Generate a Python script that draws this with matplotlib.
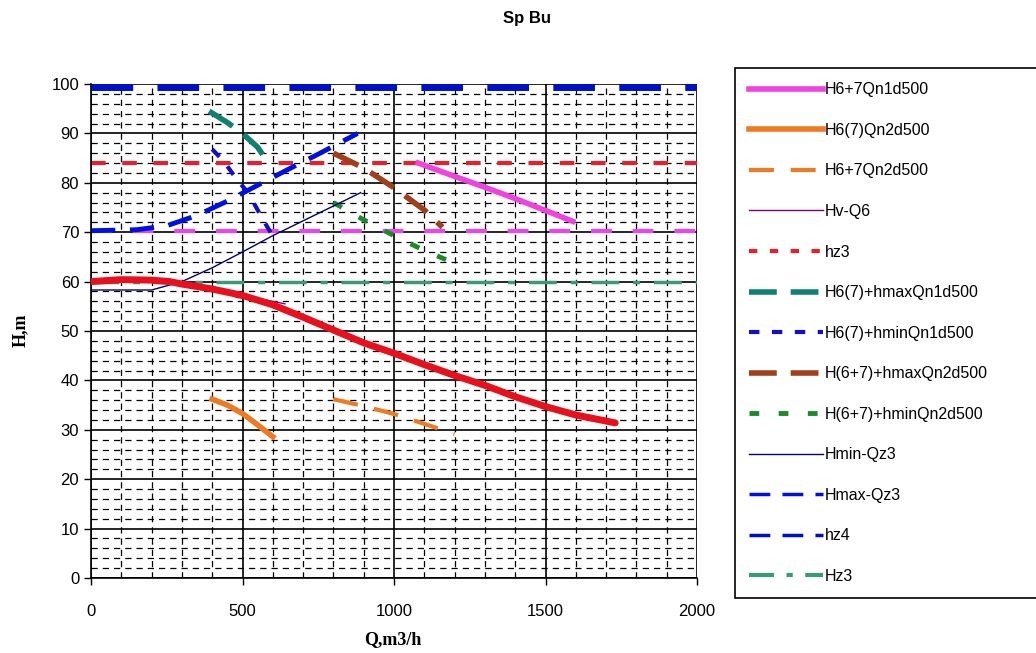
import matplotlib
matplotlib.use('Agg')
import matplotlib.pyplot as plt
from matplotlib.lines import Line2D
from matplotlib.ticker import MultipleLocator

# pump curve (thick red, not in legend)
q_pump = [0, 100, 200, 260, 300, 400, 500, 600, 700, 800, 900, 1000, 1100, 1200, 1300, 1400, 1500, 1600, 1730]
h_pump = [60, 60.4, 60.3, 60, 59.5, 58.5, 57.2, 55.3, 52.8, 50.2, 47.6, 45.5, 43.2, 41, 39, 36.7, 34.7, 33, 31.4]

q_n1 = [1080, 1200, 1300, 1400, 1500, 1590]
h_n1 = [84, 81.3, 79.1, 76.8, 74.4, 72.2]

q_n2 = [400, 450, 500, 550, 600]
h_n2 = [36.2, 35, 33.3, 31, 28.6]

q_n2b = [800, 900, 1000, 1100, 1200]
h_n2b = [36.2, 34.8, 33.2, 31.2, 29.2]

q_hv = [480, 560, 640]
h_hv = [56.8, 56.5, 55.5]

q_hmax1 = [390, 450, 500, 550, 580]
h_hmax1 = [94.5, 92.2, 90, 87.2, 84.5]

q_hmin1 = [400, 440, 480, 510, 540, 570, 600]
h_hmin1 = [86.8, 84.2, 80.8, 78.6, 75.6, 72.3, 69.2]

q_hmax2 = [800, 900, 1000, 1100, 1160]
h_hmax2 = [86, 83, 79, 74.5, 71]

q_hmin2 = [800, 900, 1000, 1100, 1200]
h_hmin2 = [76, 72.5, 69.3, 66.3, 63.7]

q_hminqz = [0, 200, 300, 400, 500, 600, 700, 800, 890]
h_hminqz = [58.3, 58.3, 60, 62.8, 66, 69.3, 72.3, 75.3, 78]

q_hmaxqz = [0, 150, 250, 350, 450, 550, 650, 750, 880]
h_hmaxqz = [70.3, 70.5, 71.3, 73.4, 76.3, 79.5, 82.7, 85.8, 90]

q_full = [0, 2000]
hz3 = 84
hz4 = 99.4
Hz3 = 60
h_magenta = 70.2

fig = plt.figure(figsize=(10.36, 6.53), dpi=100)
ax = fig.add_axes([91/1036, 1-578/653, 606/1036, 494/653])

ax.set_xlim(0, 2000)
ax.set_ylim(0, 100)
ax.xaxis.set_major_locator(MultipleLocator(500))
ax.xaxis.set_minor_locator(MultipleLocator(100))
ax.yaxis.set_major_locator(MultipleLocator(10))
ax.yaxis.set_minor_locator(MultipleLocator(2))
ax.grid(which='major', color='black', linewidth=1.2)
ax.grid(which='minor', color='black', linewidth=0.9, linestyle=(0, (5, 4)))
ax.set_axisbelow(True)
ax.tick_params(which='minor', length=0)
ax.tick_params(which='major', length=5, width=1, labelsize=12, direction='out')
for s in ['top', 'right']:
    ax.spines[s].set_visible(False)
for s in ['left', 'bottom']:
    ax.spines[s].set_linewidth(1.2)
for lbl in ax.get_xticklabels() + ax.get_yticklabels():
    lbl.set_fontfamily('Liberation Sans')
ax.tick_params(axis='x', pad=14)

# horizontal levels
ax.plot(q_full, [h_magenta] * 2, color='#ee44ee', lw=3, ls=(0, (5, 5)))
ax.plot(q_full, [hz4] * 2, color='#0010c8', lw=5, ls=(0, (6, 3.5)), zorder=3)
ax.plot(q_full, [Hz3] * 2, color='#3a9a78', lw=2.5, ls=(0, (8, 4, 2, 4)))
ax.plot(q_full, [hz3] * 2, color='#e8202a', lw=3, ls=(0, (3.5, 4)))

ax.plot(q_pump, h_pump, color='#e8101c', lw=5, solid_capstyle='round', zorder=4)

l1, = ax.plot(q_n1, h_n1, color='#ee44dd', lw=4)
l2, = ax.plot(q_n2, h_n2, color='#ee7a22', lw=4)
l3, = ax.plot(q_n2b, h_n2b, color='#ee7a22', lw=3, ls=(0, (6, 4)))
l4, = ax.plot(q_hv, h_hv, color='#800080', lw=1, zorder=3)
l6, = ax.plot(q_hmax1, h_hmax1, color='#108070', lw=4, ls=(0, (5, 2.5)))
l7, = ax.plot(q_hmin1, h_hmin1, color='#1010c8', lw=3, ls=(0, (2.5, 3)))
l8, = ax.plot(q_hmax2, h_hmax2, color='#a0401a', lw=4, ls=(0, (5, 2.5)))
l9, = ax.plot(q_hmin2, h_hmin2, color='#1a8a2a', lw=3.5, ls=(0, (2, 4)))
l10, = ax.plot(q_hminqz, h_hminqz, color='#000080', lw=1)
ax.plot(q_hmaxqz, h_hmaxqz, color='#0010e0', lw=3.5, ls=(0, (5, 3)))

# legend proxies where the legend sample looks different from the plotted line
l5 = Line2D([], [], color='#e8202a', lw=3, ls=(0, (2, 3)))
l11 = Line2D([], [], color='#0010e0', lw=2.5, ls=(0, (6, 3.5)))
l12 = Line2D([], [], color='#0010c8', lw=2.5, ls=(0, (6, 3.5)))
l13 = Line2D([], [], color='#3a9a78', lw=3, ls=(0, (6, 3, 1.5, 3)))

handles = [l1, l2, l3, l4, l5, l6, l7, l8, l9, l10, l11, l12, l13]
labels = ['H6+7Qn1d500', 'H6(7)Qn2d500', 'H6+7Qn2d500', 'Hv-Q6', 'hz3',
          'H6(7)+hmaxQn1d500', 'H6(7)+hminQn1d500', 'H(6+7)+hmaxQn2d500',
          'H(6+7)+hminQn2d500', 'Hmin-Qz3', 'Hmax-Qz3', 'hz4', 'Hz3']

leg = fig.legend(handles, labels, loc='upper left',
                 bbox_to_anchor=(735/1036, 0, 320/1036, 1-68/653), mode='expand',
                 frameon=True, fancybox=False, edgecolor='black', framealpha=1,
                 handlelength=4.6, handletextpad=0.1, labelspacing=1.6,
                 borderpad=0.9, borderaxespad=0,
                 prop={'family': 'Liberation Sans', 'size': 11.5})
leg.get_frame().set_linewidth(1.2)

fig.text(527/1036, 1-18/653, 'Sp Bu', ha='center', va='center',
         fontsize=12, fontweight='bold', family='Liberation Sans')
fig.text(20/1036, 1-330/653, 'H,m', ha='center', va='center', rotation=90,
         fontsize=13, fontweight='bold', family='Liberation Serif')
fig.text(393/1036, 1-640/653, 'Q,m3/h', ha='center', va='center',
         fontsize=13, fontweight='bold', family='Liberation Serif')

fig.savefig('out.png', dpi=100)
